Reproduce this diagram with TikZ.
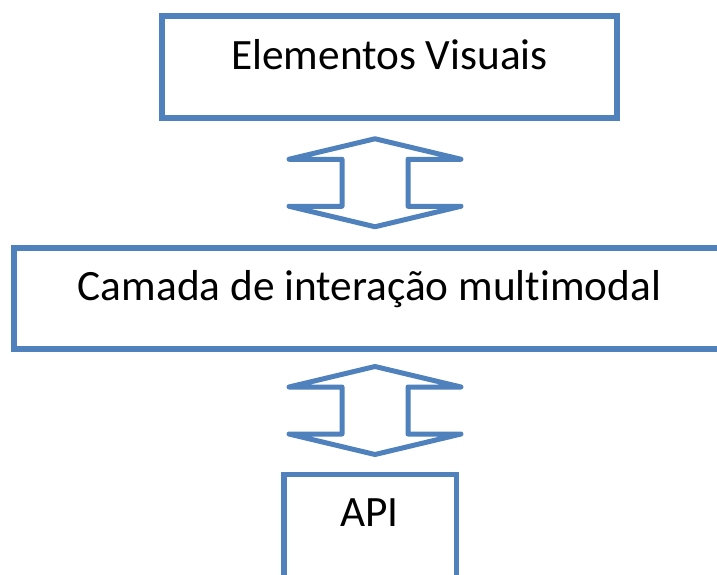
\documentclass[tikz,border=0pt]{standalone}
\usepackage{fontspec}
\setmainfont[RawFeature={-liga;-clig;-dlig}]{Carlito}
\definecolor{boxblue}{HTML}{4F81BD}
\tikzset{
  box/.style={draw=boxblue, line width=5.3pt, fill=white, inner sep=0pt},
  txt/.style={font=\fontsize{43.3}{50}\selectfont, text=black, inner sep=0pt, anchor=base},
  blockarrow/.pic={
    \draw[draw=boxblue, line width=5pt, line join=round, fill=white]
      (0,-44) -- (-86,-23.5) -- (-33,-23.5) -- (-33,23.5) -- (-86,23.5)
      -- (0,44) -- (86,23.5) -- (33,23.5) -- (33,-23.5) -- (86,-23.5) -- cycle;
  }
}
\begin{document}
\begin{tikzpicture}[x=1pt, y=-1pt]
  \clip (0,0) rectangle (717,574);
  \fill[white] (0,0) rectangle (717,574);

  % the three layers
  \node[box, minimum width=455pt, minimum height=102pt] (vis) at (389.5,67) {};
  \node[box, minimum width=711pt, minimum height=101pt] (cam) at (369.5,298.5) {};
  \node[box, minimum width=172.5pt, minimum height=116pt] (api) at (370.25,532.5) {};

  % labels
  \node[txt] (visT) at ([yshift=-2pt]vis.center) {Elementos Visuais};
  \node[txt] (camT) at ([yshift=-1.5pt]cam.center) {Camada de interação mult\kern0pt imodal};
  \node[txt] (apiT) at (369.5,526.7) {API};

  % two-way block arrows between the layers
  \coordinate (a1) at (375,182.75);
  \coordinate (a2) at (375,410.5);
  \pic at (a1) {blockarrow};
  \pic at (a2) {blockarrow};
\end{tikzpicture}
\end{document}
